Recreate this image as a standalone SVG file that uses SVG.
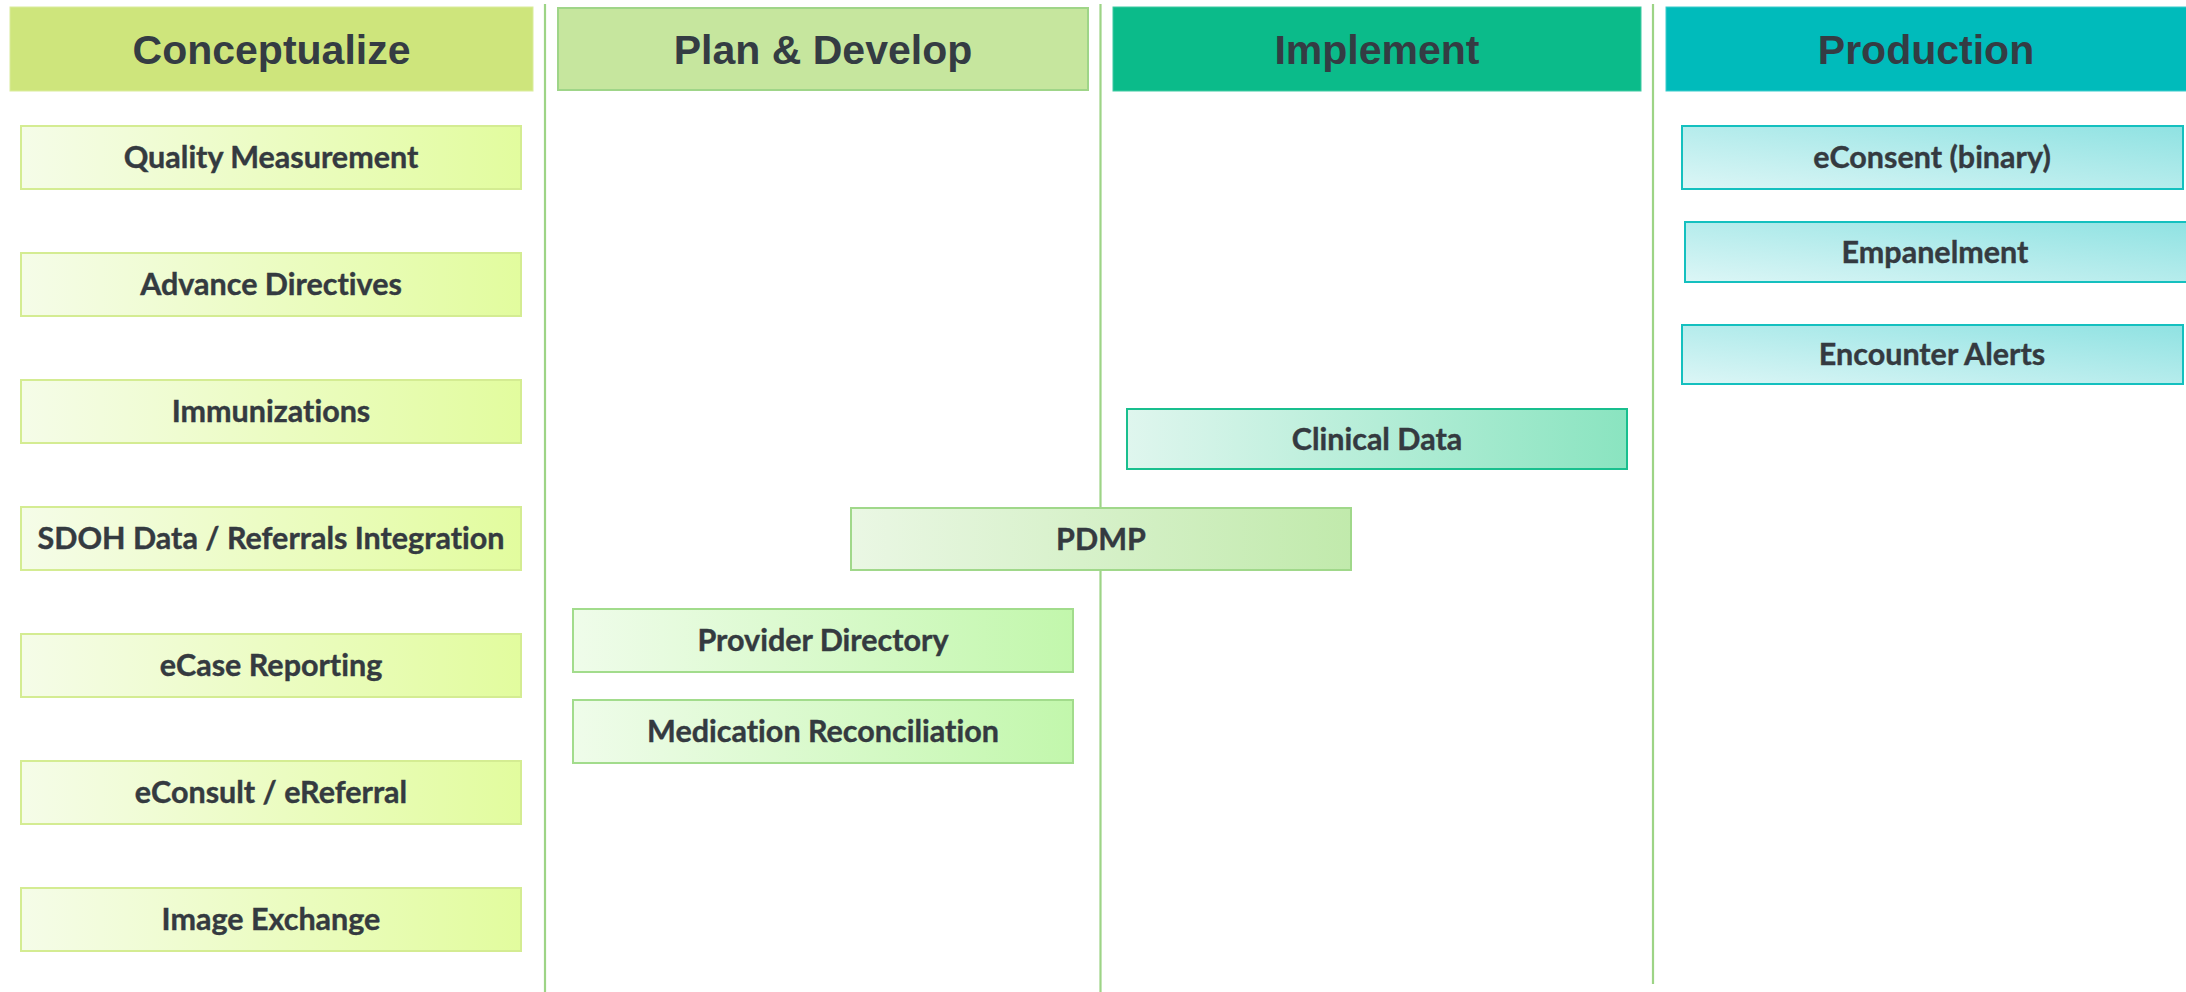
<svg xmlns="http://www.w3.org/2000/svg" width="2186" height="992" viewBox="0 0 2186 992">
  <defs>
    <linearGradient id="gConcept" x1="0" y1="0" x2="1" y2="0">
      <stop offset="0" stop-color="#F5FCE8"/>
      <stop offset="1" stop-color="#E2FC9E"/>
    </linearGradient>
    <linearGradient id="gPlan" x1="0" y1="0" x2="1" y2="0">
      <stop offset="0" stop-color="#EFFCEA"/>
      <stop offset="1" stop-color="#C2F7AC"/>
    </linearGradient>
    <linearGradient id="gPdmp" x1="0" y1="0" x2="1" y2="0">
      <stop offset="0" stop-color="#EAF7E4"/>
      <stop offset="1" stop-color="#C1EAAC"/>
    </linearGradient>
    <linearGradient id="gImpl" x1="0" y1="0" x2="1" y2="0">
      <stop offset="0" stop-color="#DFF6EE"/>
      <stop offset="1" stop-color="#8AE4C0"/>
    </linearGradient>
    <linearGradient id="gProd" x1="0" y1="1" x2="1" y2="0">
      <stop offset="0" stop-color="#DCF6F6"/>
      <stop offset="1" stop-color="#8FE2E2"/>
    </linearGradient>
    <style>
      .hdr-text { font-family: "Liberation Sans", Arial, sans-serif; font-weight: bold; font-size: 41px; fill: #343C43; text-anchor: middle; }
      .box-text { font-family: Lato, "Open Sans", sans-serif; font-weight: bold; font-size: 30.5px; fill: #343A40; text-anchor: middle; font-variant-ligatures: none; stroke: #343A40; stroke-width: 0.4; }
      .lane { stroke: #9DD486; stroke-width: 2.2; fill: none; }
      .b-concept { fill: url(#gConcept); stroke: #D4EC92; stroke-width: 2; }
      .b-plan { fill: url(#gPlan); stroke: #A2DC8C; stroke-width: 2; }
      .b-pdmp { fill: url(#gPdmp); stroke: #A0D88A; stroke-width: 2; }
      .b-impl { fill: url(#gImpl); stroke: #19BF8E; stroke-width: 2; }
      .b-prod { fill: url(#gProd); stroke: #14C0BF; stroke-width: 2; }
    </style>
  </defs>

  <rect width="2186" height="992" fill="#FFFFFF"/>

  <!-- lane separators -->
  <g id="lanes">
    <line class="lane" x1="545" y1="4" x2="545" y2="992"/>
    <line class="lane" x1="1100.5" y1="4" x2="1100.5" y2="992"/>
    <line class="lane" x1="1653" y1="4" x2="1653" y2="984"/>
  </g>

  <!-- phase headers -->
  <g id="hdr-conceptualize">
    <rect x="10" y="7" width="523" height="84" fill="#CEE57C" stroke="#DAEC9C" stroke-width="1"/>
    <text class="hdr-text" x="271.5" y="64">Conceptualize</text>
  </g>
  <g id="hdr-plan">
    <rect x="558" y="8" width="530" height="82" fill="#C6E69E" stroke="#9FD588" stroke-width="2"/>
    <text class="hdr-text" x="823" y="64">Plan &amp; Develop</text>
  </g>
  <g id="hdr-implement">
    <rect x="1113" y="7" width="528" height="84" fill="#0BBB8A" stroke="#3FCAA2" stroke-width="1"/>
    <text class="hdr-text" x="1377" y="64">Implement</text>
  </g>
  <g id="hdr-production">
    <rect x="1666" y="7" width="530" height="84" fill="#00BBBB" stroke="#3ACBCB" stroke-width="1"/>
    <text class="hdr-text" x="1926" y="64">Production</text>
  </g>

  <!-- Conceptualize items -->
  <g id="quality-measurement">
    <rect class="b-concept" x="21" y="126" width="500" height="63"/>
    <text class="box-text" x="271" y="168">Quality Measurement</text>
  </g>
  <g id="advance-directives">
    <rect class="b-concept" x="21" y="253" width="500" height="63"/>
    <text class="box-text" x="271" y="295">Advance Directives</text>
  </g>
  <g id="immunizations">
    <rect class="b-concept" x="21" y="380" width="500" height="63"/>
    <text class="box-text" x="271" y="422">Immunizations</text>
  </g>
  <g id="sdoh">
    <rect class="b-concept" x="21" y="507" width="500" height="63"/>
    <text class="box-text" x="271" y="549">SDOH Data / Referrals Integration</text>
  </g>
  <g id="ecase-reporting">
    <rect class="b-concept" x="21" y="634" width="500" height="63"/>
    <text class="box-text" x="271" y="676">eCase Reporting</text>
  </g>
  <g id="econsult">
    <rect class="b-concept" x="21" y="761" width="500" height="63"/>
    <text class="box-text" x="271" y="803">eConsult / eReferral</text>
  </g>
  <g id="image-exchange">
    <rect class="b-concept" x="21" y="888" width="500" height="63"/>
    <text class="box-text" x="271" y="930">Image Exchange</text>
  </g>

  <!-- Plan & Develop items -->
  <g id="pdmp">
    <rect class="b-pdmp" x="851" y="508" width="500" height="62"/>
    <text class="box-text" x="1101" y="549.5">PDMP</text>
  </g>
  <g id="provider-directory">
    <rect class="b-plan" x="573" y="609" width="500" height="63"/>
    <text class="box-text" x="823" y="651">Provider Directory</text>
  </g>
  <g id="medication-reconciliation">
    <rect class="b-plan" x="573" y="700" width="500" height="63"/>
    <text class="box-text" x="823" y="742">Medication Reconciliation</text>
  </g>

  <!-- Implement items -->
  <g id="clinical-data">
    <rect class="b-impl" x="1127" y="409" width="500" height="60"/>
    <text class="box-text" x="1377" y="449.5">Clinical Data</text>
  </g>

  <!-- Production items -->
  <g id="econsent">
    <rect class="b-prod" x="1682" y="126" width="501" height="63"/>
    <text class="box-text" x="1932" y="168">eConsent (binary)</text>
  </g>
  <g id="empanelment">
    <rect class="b-prod" x="1685" y="222" width="504" height="60"/>
    <text class="box-text" x="1935" y="262.5">Empanelment</text>
  </g>
  <g id="encounter-alerts">
    <rect class="b-prod" x="1682" y="325" width="501" height="59"/>
    <text class="box-text" x="1932" y="365">Encounter Alerts</text>
  </g>
</svg>
